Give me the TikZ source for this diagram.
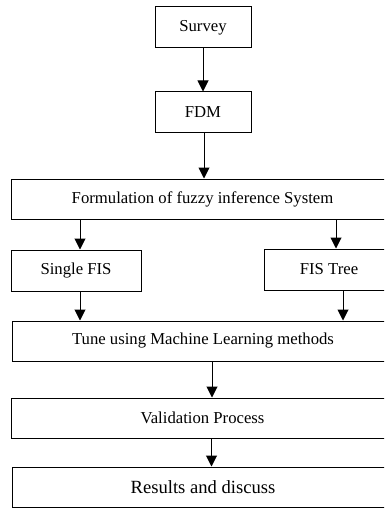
\documentclass[tikz,border=0pt]{standalone}
\usepackage{fontspec}
\setmainfont{Liberation Serif}
\usetikzlibrary{arrows.meta}
\begin{document}
\begin{tikzpicture}[x=1pt,y=-1pt,
  box/.style={draw,line width=1pt,inner sep=0pt,font=\fontsize{16.7}{18}\selectfont},
  arr/.style={line width=1pt,-{Triangle[width=11pt,length=11pt]}}]
\useasboundingbox (0,0) rectangle (384,508);
\clip (0,0) rectangle (384,508);
\node[box,minimum width=96pt,minimum height=41pt] (survey) at (203,27.5) {Survey};
\node[box,minimum width=96pt,minimum height=40pt] (fdm) at (203,112) {FDM};
\node[box,minimum width=383pt,minimum height=40pt] (form) at (202.5,199) {Formulation of fuzzy inference System};
\node[box,minimum width=130pt,minimum height=41pt] (single) at (76,270.5) {Single FIS};
\node[box,minimum width=130pt,minimum height=41pt] (tree) at (329,269.5) {FIS Tree};
\node[box,minimum width=382pt,minimum height=40pt] (tune) at (203,341) {Tune using Machine Learning methods};
\node[box,minimum width=383pt,minimum height=40pt] (valid) at (202.5,418) {Validation Process};
\node[box,minimum width=382pt,minimum height=40pt,font=\fontsize{18.6}{20}\selectfont] (res) at (203,487) {Results and discuss};
\draw[arr] (survey) -- (fdm);
\draw[arr] ([xshift=1pt]fdm.south) -- ([xshift=1pt]fdm.south |- form.north);
\draw[arr] ([xshift=4pt]single.north |- form.south) -- ([xshift=4pt]single.north);
\draw[arr] ([xshift=7pt]tree.north |- form.south) -- ([xshift=7pt]tree.north);
\draw[arr] ([xshift=4pt]single.south) -- ([xshift=4pt]single.south |- tune.north);
\draw[arr] ([xshift=14pt]tree.south) -- ([xshift=14pt]tree.south |- tune.north);
\draw[arr] ([xshift=9pt]tune.south) -- ([xshift=9pt]tune.south |- valid.north);
\draw[arr] ([xshift=9pt]valid.south) -- ([xshift=9pt]valid.south |- res.north);
\end{tikzpicture}
\end{document}
